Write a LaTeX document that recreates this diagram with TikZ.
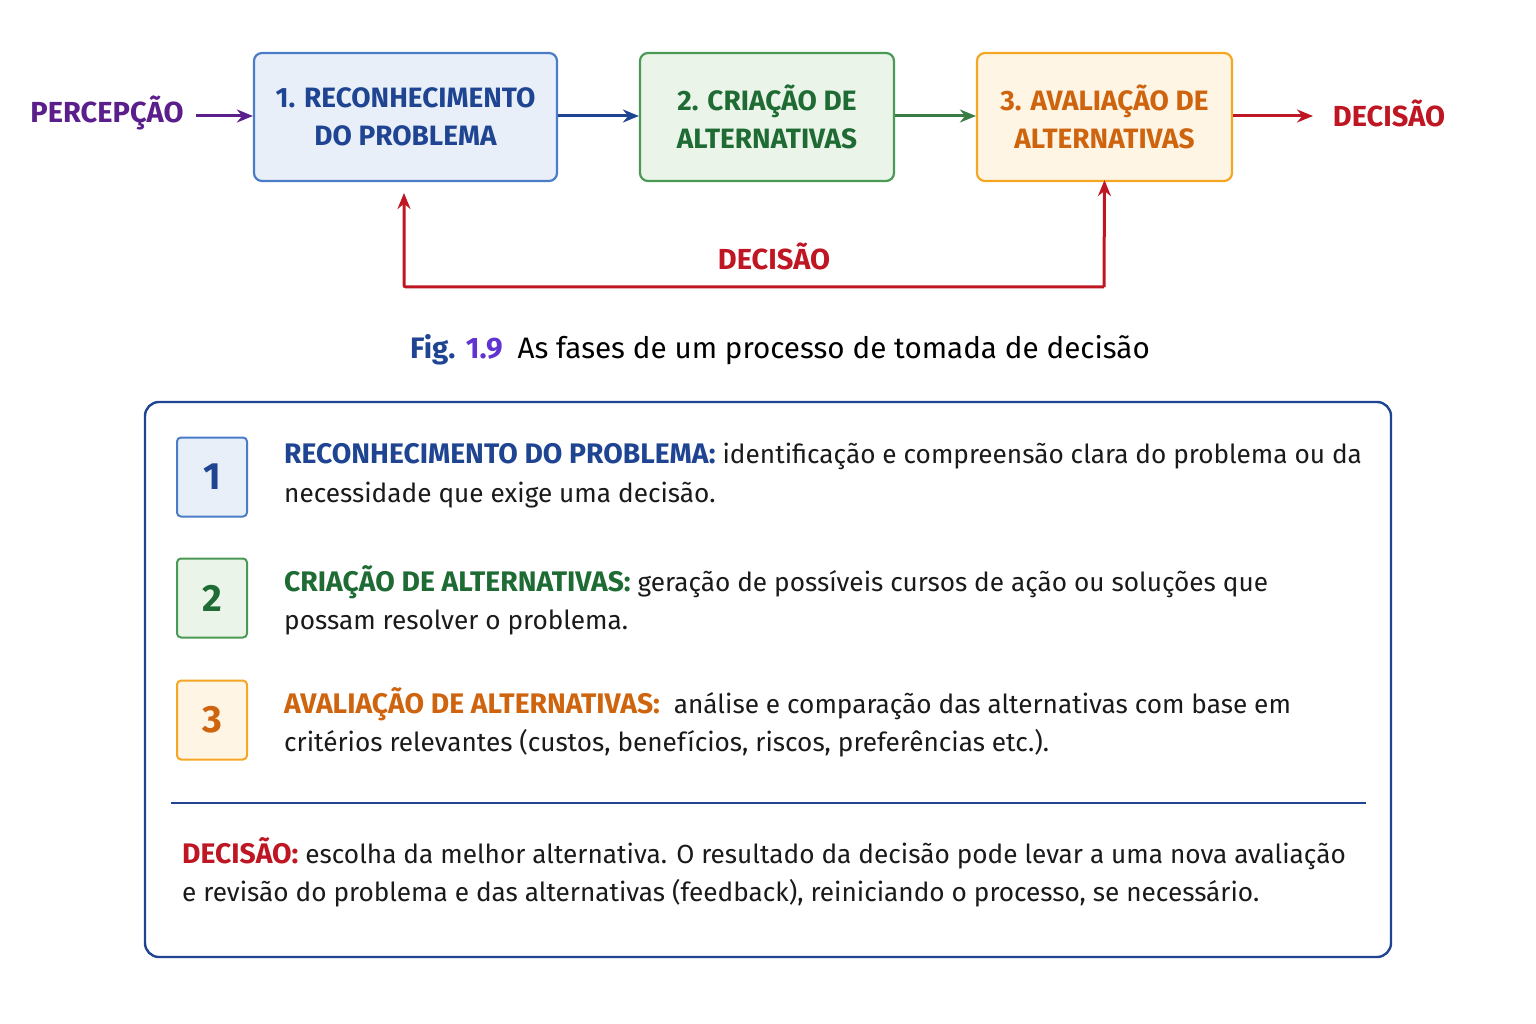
\documentclass[tikz,border=0pt]{standalone}
\usepackage{fontspec}
\setmainfont{Fira Sans}
\usetikzlibrary{arrows.meta}
\definecolor{bluetxt}{HTML}{1F4592}
\definecolor{bluebd}{HTML}{4A7CC7}
\definecolor{bluefill}{HTML}{E9EFF9}
\definecolor{greentxt}{HTML}{1E6B34}
\definecolor{greenbd}{HTML}{4A9A55}
\definecolor{greenfill}{HTML}{EBF4E9}
\definecolor{orangetxt}{HTML}{CF640F}
\definecolor{orangebd}{HTML}{F5A623}
\definecolor{orangefill}{HTML}{FFF5E5}
\definecolor{redtxt}{HTML}{BE1622}
\definecolor{purpletxt}{HTML}{5B1F8C}
\definecolor{paneltxt}{HTML}{1A1A1A}
\tikzset{
  phase/.style={draw=#1bd, fill=#1fill, line width=2.2pt, rounded corners=8pt, align=center,
    text=#1txt, font=\fontsize{28}{38}\selectfont\bfseries},
  num/.style={draw=#1bd, fill=#1fill, line width=2pt, rounded corners=4pt,
    minimum width=70pt, minimum height=79pt, text=#1txt, font=\fontsize{38}{40}\selectfont\bfseries},
  desc/.style={anchor=north west, align=left, inner sep=0pt, text=paneltxt,
    font=\fontsize{26.2}{38.5}\selectfont},
  flow/.style={-{Stealth[length=16pt,width=13pt]}, line width=3pt},
  lab/.style={font=\fontsize{29}{30}\selectfont\bfseries},
}
\begin{document}
\begin{tikzpicture}[x=1pt,y=-1pt]
\useasboundingbox (0,0) rectangle (1536,1024);
% phases
\node[phase=blue, minimum width=303pt, minimum height=128pt] (p1) at (405.5,117) {1. RECONHECIMENTO\\DO PROBLEMA};
\node[phase=green, minimum width=254pt, minimum height=128pt] (p2) at (767,117) {2. CRIAÇÃO DE\\ALTERNATIVAS};
\node[phase=orange, minimum width=255pt, minimum height=128pt] (p3) at (1104.5,117) {3. AVALIAÇÃO DE\\ALTERNATIVAS};
\node[lab, text=purpletxt] (perc) at (107,113) {PERCEPÇÃO};
\node[lab, text=redtxt] (dec) at (1389,113) {DECISÃO};
\draw[flow, purpletxt] (196,116) -- (p1.west |- 0,116);
\draw[flow, bluetxt] (p1.east |- 0,116) -- (p2.west |- 0,116);
\draw[flow, greenbd!80!black] (p2.east |- 0,116) -- (p3.west |- 0,116);
\draw[flow, redtxt] (p3.east |- 0,116) -- (1313,116);
% feedback
\coordinate (fbr) at (1104,287);
\coordinate (fbl) at (404,287);
\draw[flow, redtxt] (fbr) -- ([yshift=2pt]p3.south) ;
\draw[flow, redtxt, rounded corners=2pt] (fbr) -- (fbl) -- (404,193);
\node[lab, text=redtxt] (fblab) at (774,256) {DECISÃO};
% caption
\node[font=\fontsize{29.6}{32}\selectfont] (cap) at (780,350)
  {\textcolor{bluetxt}{\bfseries Fig.} \textcolor{blue!70!purple!80!white}{\bfseries 1.9}\enspace As fases de um processo de tomada de decisão};
% panel
\draw[draw=bluetxt, line width=2.4pt, rounded corners=14pt, fill=white] (145,402) rectangle (1391,957);
\node[num=blue] (n1) at (212,477) {1};
\node[num=green] (n2) at (212,598) {2};
\node[num=orange] (n3) at (212,720) {3};
\node[desc] (d1) at (284,443) {\textcolor{bluetxt}{\fontsize{28.3}{38.5}\selectfont\bfseries RECONHECIMENTO DO PROBLEMA:} identificação e compreensão clara do problema ou da\\necessidade que exige uma decisão.};
\node[desc] (d2) at (284,565) {\textcolor{greentxt}{\fontsize{28.3}{38.5}\selectfont\bfseries CRIAÇÃO DE ALTERNATIVAS:} geração de possíveis cursos de ação ou soluções que\\possam resolver o problema.};
\node[desc] (d3) at (284,687) {\textcolor{orangetxt}{\fontsize{28.3}{38.5}\selectfont\bfseries AVALIAÇÃO DE ALTERNATIVAS:}\ \ análise e comparação das alternativas com base em\\critérios relevantes (custos, benefícios, riscos, preferências etc.).};
\draw[bluetxt, line width=2.4pt] (171,803) -- (1366,803);
\node[desc] (d4) at (182,837) {\textcolor{redtxt}{\fontsize{28.3}{38.5}\selectfont\bfseries DECISÃO:} escolha da melhor alternativa. O resultado da decisão pode levar a uma nova avaliação\\e revisão do problema e das alternativas (feedback), reiniciando o processo, se necessário.};
\end{tikzpicture}
\end{document}
